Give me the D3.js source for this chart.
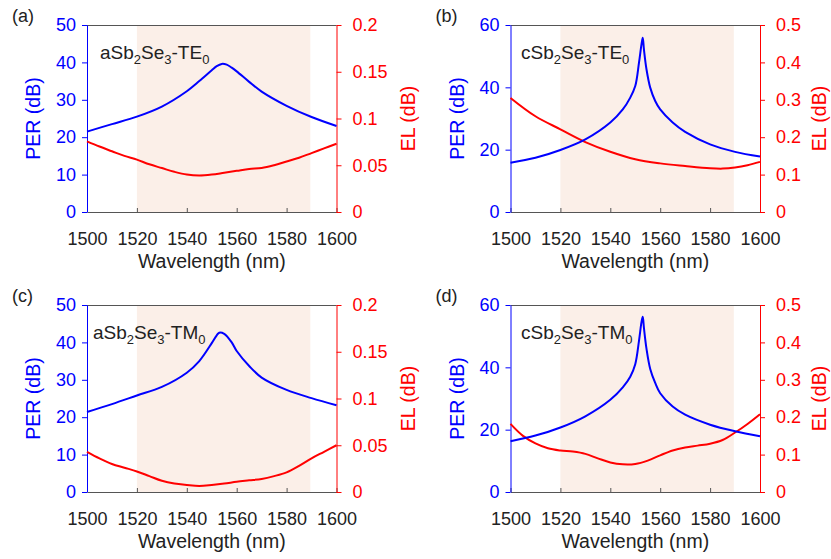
<!DOCTYPE html>
<html><head><meta charset="utf-8">
<script src="https://cdn.jsdelivr.net/npm/d3@7"></script>
<style>
body{margin:0;background:#fff}
text{font-family:"Liberation Sans",Arial,sans-serif}
</style>
</head><body>
<svg id="chart" width="831" height="559"></svg>
<script>
// ---------- data ----------
const xTicks = [1500, 1520, 1540, 1560, 1580, 1600];
const perTicksAmor = [0, 10, 20, 30, 40, 50];
const elTicksAmor = [0, 0.05, 0.1, 0.15, 0.2];
const perTicksCrys = [0, 20, 40, 60];
const elTicksCrys = [0, 0.1, 0.2, 0.3, 0.4, 0.5];
const bandStart = 1520, bandEnd = 1589.5;

const wlStep5 = [1500,1505,1510,1515,1520,1525,1530,1535,1540,1545,1550,1555,1560,1565,1570,1575,1580,1585,1590,1595,1600];

// (a) aSb2Se3-TE0
const wlPerA = [1500,1510,1520,1530,1540,1545,1550,1552,1554,1556,1558,1560,1565,1570,1580,1590,1600];
const perA   = [21.5,23.5,25.5,28.2,32.3,35.0,37.9,39.0,39.6,39.4,38.6,37.6,34.8,32.2,28.4,25.4,23.0];
const elA    = [0.0755,0.070,0.065,0.060,0.056,0.051,0.047,0.043,0.040,0.039,0.040,0.042,0.044,0.046,0.047,0.050,0.054,0.058,0.063,0.068,0.073];

// (b) cSb2Se3-TE0
const wlPerB = [1500,1510,1520,1530,1540,1545,1548,1550,1551.5,1552.5,1553,1553.5,1554.5,1556,1558,1560,1565,1570,1580,1590,1600];
const perB   = [15.8,17.4,19.9,23.3,28.7,32.9,36.7,40.4,47.9,53.8,55.9,52.0,45.8,39.9,35.6,32.9,28.7,25.7,21.7,19.3,17.8];
const wlElB  = [1500,1510,1520,1530,1540,1550,1560,1570,1580,1585,1590,1595,1600];
const elB    = [0.305,0.256,0.221,0.187,0.161,0.141,0.130,0.123,0.117,0.116,0.119,0.125,0.134];

// (c) aSb2Se3-TM0
const wlPerC = [1500,1510,1520,1530,1540,1545,1550,1552,1553,1555,1558,1560,1565,1570,1580,1590,1600];
const perC   = [21.4,23.5,25.8,28.1,31.9,35.0,39.8,41.9,42.6,42.3,40.0,37.7,33.7,30.6,27.3,25.1,23.2];
const elC    = [0.043,0.036,0.030,0.026,0.022,0.017,0.012,0.009,0.0075,0.0065,0.0075,0.009,0.011,0.0125,0.014,0.017,0.021,0.028,0.036,0.043,0.050];

// (d) cSb2Se3-TM0
const wlPerD = [1500,1510,1520,1530,1540,1545,1548,1550,1551.5,1552.5,1553,1553.5,1554.5,1556,1558,1560,1565,1570,1580,1590,1600];
const perD   = [16.3,18.1,20.7,24.3,29.6,33.6,37.0,41.0,48.5,54.5,56.2,52.5,46.0,39.5,35.0,31.7,27.4,24.8,21.6,19.5,17.9];
const elD    = [0.182,0.150,0.130,0.117,0.111,0.108,0.102,0.090,0.079,0.074,0.075,0.084,0.098,0.111,0.119,0.124,0.129,0.139,0.159,0.182,0.208];

const panelLabels = ["(a)", "(b)", "(c)", "(d)"];
const materials = ["aSb", "cSb", "aSb", "cSb"];
const modes = ["TE", "TE", "TM", "TM"];

// ---------- styles / layout ----------
const BLUE = "#0000ff", RED = "#ff0000", DARK = "#222", FRAME = "#555", SHADE = "#fbefe8";
const W = 249.5, H = 187;
const layout = [
  {x: 87, y: 25, elX: 78, annX: 13},
  {x: 510.5, y: 25, elX: 66, annX: 10.5},
  {x: 87, y: 305, elX: 78, annX: 6},
  {x: 510.5, y: 305, elX: 66, annX: 10.5}
];

const panels = [
  {wlPer: wlPerA, per: perA, wlEl: wlStep5, el: elA, perTicks: perTicksAmor, elTicks: elTicksAmor},
  {wlPer: wlPerB, per: perB, wlEl: wlElB, el: elB, perTicks: perTicksCrys, elTicks: elTicksCrys},
  {wlPer: wlPerC, per: perC, wlEl: wlStep5, el: elC, perTicks: perTicksAmor, elTicks: elTicksAmor},
  {wlPer: wlPerD, per: perD, wlEl: wlStep5, el: elD, perTicks: perTicksCrys, elTicks: elTicksCrys}
];

const svg = d3.select("#chart");
const FONT = "'Liberation Sans', Arial, sans-serif";

panels.forEach((p, i) => {
  const L = layout[i];
  const g = svg.append("g").attr("transform", `translate(${L.x},${L.y})`);
  const x = d3.scaleLinear().domain([1500, 1600]).range([0, W]);
  const yL = d3.scaleLinear().domain([0, d3.max(p.perTicks)]).range([H, 0]);
  const yR = d3.scaleLinear().domain([0, d3.max(p.elTicks)]).range([H, 0]);

  // shaded band
  g.append("rect")
    .attr("x", x(bandStart)).attr("y", 0)
    .attr("width", x(bandEnd) - x(bandStart)).attr("height", H)
    .attr("fill", SHADE);

  // top frame
  g.append("line").attr("x1", 0).attr("x2", W).attr("y1", 0.5).attr("y2", 0.5)
    .attr("stroke", FRAME).attr("stroke-width", 1.2);

  // bottom axis (ticks inward)
  const xa = g.append("g").attr("transform", `translate(0,${H})`)
    .call(d3.axisBottom(x).tickValues(xTicks).tickSizeInner(-4).tickSizeOuter(0).tickPadding(20).tickFormat(d3.format("d")));
  xa.select(".domain").attr("stroke", FRAME).attr("stroke-width", 1.2);
  xa.selectAll(".tick line").attr("stroke", FRAME);
  xa.selectAll(".tick text").attr("fill", DARK).style("font-size", "18px").style("font-family", FONT);

  // left axis
  const la = g.append("g")
    .call(d3.axisLeft(yL).tickValues(p.perTicks).tickSizeInner(5).tickSizeOuter(0).tickPadding(6));
  la.select(".domain").attr("stroke", BLUE);
  la.selectAll(".tick line").attr("stroke", BLUE);
  la.selectAll(".tick text").attr("fill", BLUE).style("font-size", "18px").style("font-family", FONT);

  // right axis
  const ra = g.append("g").attr("transform", `translate(${W},0)`)
    .call(d3.axisRight(yR).tickValues(p.elTicks).tickSizeInner(5).tickSizeOuter(0).tickPadding(11).tickFormat(d => String(d)));
  ra.select(".domain").attr("stroke", RED);
  ra.selectAll(".tick line").attr("stroke", RED);
  ra.selectAll(".tick text").attr("fill", RED).style("font-size", "18px").style("font-family", FONT);

  // curves
  const perLine = d3.line().x((d, k) => x(p.wlPer[k])).y(d => yL(d)).curve(d3.curveCatmullRom.alpha(0.5));
  const elLine = d3.line().x((d, k) => x(p.wlEl[k])).y(d => yR(d)).curve(d3.curveCatmullRom.alpha(0.5));
  g.append("path").attr("d", elLine(p.el)).attr("fill", "none").attr("stroke", RED).attr("stroke-width", 2);
  g.append("path").attr("d", perLine(p.per)).attr("fill", "none").attr("stroke", BLUE).attr("stroke-width", 2);

  // axis titles
  g.append("text").attr("x", W / 2).attr("y", H + 56).attr("text-anchor", "middle")
    .attr("fill", DARK).style("font-size", "19.5px").text("Wavelength (nm)");
  g.append("text").attr("transform", `translate(${-47},${H / 2}) rotate(-90)`).attr("text-anchor", "middle")
    .attr("fill", BLUE).style("font-size", "19.5px").text("PER (dB)");
  g.append("text").attr("transform", `translate(${W + L.elX},${H / 2}) rotate(-90)`).attr("text-anchor", "middle")
    .attr("fill", RED).style("font-size", "19.5px").text("EL (dB)");

  // panel label
  g.append("text").attr("x", -75).attr("y", -3).attr("fill", DARK).style("font-size", "18px").text(panelLabels[i]);

  // annotation
  const ann = g.append("text").attr("x", L.annX).attr("y", 34).attr("fill", DARK).style("font-size", "19px");
  ann.append("tspan").text(materials[i]);
  ann.append("tspan").attr("dy", 5).style("font-size", "13px").text("2");
  ann.append("tspan").attr("dy", -5).text("Se");
  ann.append("tspan").attr("dy", 5).style("font-size", "13px").text("3");
  ann.append("tspan").attr("dy", -5).text("-" + modes[i]);
  ann.append("tspan").attr("dy", 5).style("font-size", "13px").text("0");
});
</script>
</body></html>
